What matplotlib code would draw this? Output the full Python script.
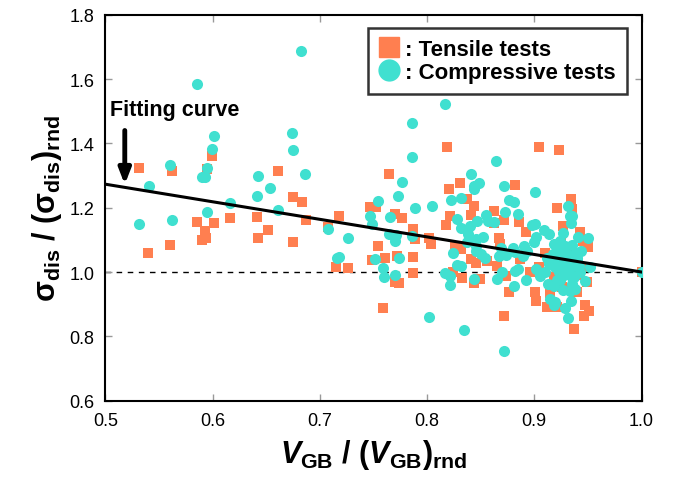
import numpy as np
import matplotlib
matplotlib.use("Agg")
import matplotlib.pyplot as plt
from matplotlib.lines import Line2D

plt.rcParams['font.family'] = ['Liberation Sans', 'DejaVu Sans']
plt.rcParams['mathtext.fontset'] = 'custom'
plt.rcParams['mathtext.rm'] = 'Liberation Sans:bold'
plt.rcParams['mathtext.it'] = 'Liberation Sans:italic:bold'
plt.rcParams['mathtext.bf'] = 'Liberation Sans:bold'

# Tensile tests (V_GB ratio, sigma_dis ratio)
tens_x = [0.531, 0.562, 0.599, 0.595, 0.661, 0.675, 0.683, 0.585, 0.601, 0.593,
          0.590, 0.594, 0.616, 0.641, 0.652, 0.642, 0.675, 0.687, 0.718, 0.708,
          0.747, 0.752, 0.560, 0.754, 0.540, 0.715, 0.726, 0.749,
          0.819, 0.904, 0.923, 0.764, 0.820, 0.831, 0.882, 0.837, 0.844, 0.841,
          0.818, 0.821, 0.862, 0.862, 0.872, 0.886, 0.770, 0.777, 0.787, 0.789,
          0.802, 0.804, 0.761, 0.772, 0.787, 0.770, 0.774, 0.787, 0.759, 0.826,
          0.832, 0.867, 0.892, 0.868, 0.841, 0.846, 0.856, 0.833, 0.844, 0.849,
          0.824, 0.865, 0.874, 0.887, 0.876, 0.872, 0.901, 0.902, 0.896, 0.904,
          0.912, 0.921, 0.926, 0.928, 0.934, 0.935, 0.921, 0.927, 0.943, 0.950,
          0.945, 0.940, 0.947, 0.951, 0.946, 0.937, 0.949, 0.947, 0.916, 0.924,
          0.930, 0.910, 0.918, 0.938, 0.925, 0.932, 0.915, 0.942, 1.000]
tens_y = [1.323, 1.315, 1.362, 1.320, 1.314, 1.233, 1.219, 1.157, 1.152, 1.129,
          1.099, 1.107, 1.169, 1.171, 1.132, 1.107, 1.094, 1.163, 1.175, 1.140,
          1.202, 1.201, 1.085, 1.082, 1.060, 1.017, 1.013, 1.037,
          1.390, 1.390, 1.380, 1.306, 1.259, 1.277, 1.272, 1.226, 1.205, 1.178,
          1.147, 1.175, 1.191, 1.152, 1.163, 1.157, 1.180, 1.169, 1.135, 1.102,
          1.107, 1.088, 1.045, 1.049, 1.048, 0.970, 0.965, 0.998, 0.888, 1.078,
          1.072, 1.106, 1.125, 1.087, 1.041, 1.028, 1.035, 0.981, 0.965, 0.978,
          0.999, 1.020, 0.989, 1.041, 0.937, 0.864, 0.937, 0.911, 1.000, 1.015,
          0.890, 0.890, 0.953, 0.948, 1.227, 1.196, 1.200, 1.144, 1.123, 1.077,
          1.098, 0.937, 0.896, 0.880, 0.864, 0.823, 0.968, 1.015, 1.051, 1.041,
          1.030, 1.060, 0.985, 1.005, 1.090, 1.065, 0.935, 0.990, 1.000]

# Compressive tests
comp_x = [0.682, 0.585, 0.601, 0.599, 0.560, 0.595, 0.590, 0.593, 0.674, 0.675,
          0.686, 0.642, 0.653, 0.641, 0.541, 0.616, 0.661, 0.595, 0.531, 0.562,
          0.708, 0.726, 0.754, 0.747, 0.749, 0.716, 0.718, 0.751,
          0.817, 0.786, 0.786, 0.864, 0.841, 0.777, 0.773, 0.848, 0.844, 0.844,
          0.872, 0.901, 0.822, 0.832, 0.805, 0.789, 0.876, 0.881, 0.765, 0.828,
          0.832, 0.840, 0.855, 0.857, 0.862, 0.847, 0.873, 0.885, 0.898, 0.901,
          0.764, 0.771, 0.770, 0.786, 0.838, 0.837, 0.846, 0.852, 0.846, 0.846,
          0.869, 0.850, 0.854, 0.867, 0.874, 0.880, 0.882, 0.890, 0.893, 0.889,
          0.900, 0.902, 0.909, 0.914, 0.824, 0.774, 0.759, 0.770, 0.760, 0.828,
          0.832, 0.817, 0.821, 0.821, 0.844, 0.865, 0.870, 0.882, 0.885, 0.881,
          0.892, 0.802, 0.834, 0.872, 0.931, 0.933, 0.935, 0.934, 0.927, 0.935,
          0.941, 0.950, 0.944, 0.918, 0.921, 0.924, 0.902, 0.905, 0.910, 0.913,
          0.918, 0.915, 0.919, 0.918, 0.934, 0.929, 0.931, 0.935, 0.938, 0.947,
          0.952, 0.920, 0.925, 0.930, 0.936, 0.928, 0.933, 0.940, 0.922, 0.926,
          0.931, 0.937, 0.924, 0.929, 0.916, 0.939, 0.943, 0.927, 0.933,
          0.912, 0.917, 0.921, 0.926, 0.930, 0.934, 0.938, 0.942, 0.919, 0.923,
          0.928, 0.932, 0.936, 0.914, 0.940, 0.925, 0.929, 0.933, 0.921, 0.935,
          1.000]
comp_y = [1.686, 1.586, 1.422, 1.383, 1.334, 1.323, 1.294, 1.294, 1.433, 1.379,
          1.306, 1.298, 1.261, 1.236, 1.269, 1.215, 1.193, 1.187, 1.149, 1.162,
          1.134, 1.105, 1.220, 1.173, 1.149, 1.043, 1.046, 1.041,
          1.521, 1.464, 1.357, 1.344, 1.306, 1.280, 1.237, 1.277, 1.266, 1.257,
          1.266, 1.249, 1.225, 1.231, 1.206, 1.199, 1.225, 1.217, 1.170, 1.166,
          1.136, 1.144, 1.178, 1.160, 1.155, 1.160, 1.187, 1.179, 1.146, 1.149,
          1.118, 1.115, 1.098, 1.111, 1.118, 1.094, 1.103, 1.108, 1.082, 1.066,
          1.075, 1.056, 1.044, 1.050, 1.053, 1.075, 1.061, 1.082, 1.066, 1.051,
          1.094, 1.108, 1.131, 1.118, 1.058, 1.043, 1.013, 0.991, 0.984, 1.023,
          1.020, 0.996, 0.988, 0.960, 0.977, 0.978, 0.999, 1.002, 1.009, 0.958,
          0.975, 0.860, 0.821, 0.754, 1.206, 1.175, 1.175, 1.153, 1.120, 1.085,
          1.110, 1.105, 1.066, 1.087, 1.077, 1.098, 1.009, 0.989, 0.999, 0.963,
          0.958, 0.916, 0.906, 0.896, 0.909, 0.887, 0.856, 0.963, 0.947, 0.973,
          1.015, 1.040, 1.030, 1.050, 1.020, 1.005, 0.995, 1.035, 1.060, 1.070,
          1.010, 0.985, 0.975, 1.025, 1.030, 1.060, 1.000, 0.945, 0.940,
          1.045, 1.055, 1.035, 1.045, 1.060, 1.045, 1.055, 1.020, 1.015, 1.000,
          0.990, 1.010, 1.040, 1.025, 1.045, 1.065, 1.080, 1.025, 0.975, 0.985,
          1.000]

# fitting curve end points
fit_x = [0.5, 1.0]
fit_y = [1.273, 1.0]

fig = plt.figure(figsize=(6.74, 4.85), dpi=100)
ax = fig.add_axes([0.1565, 0.1718, 0.7953, 0.7958])

orange = '#FF7F50'
cyan = '#40E0D0'

ax.plot([0.5, 1.0], [1.0, 1.0], color='black', lw=1.0, ls=(0, (4, 4)), zorder=1)
ax.scatter(tens_x, tens_y, marker='s', s=60, color=orange, linewidths=0, zorder=2)
ax.scatter(comp_x, comp_y, marker='o', s=64, color=cyan, linewidths=0, zorder=3)
ax.plot(fit_x, fit_y, color='black', lw=2.2, zorder=4)

ax.set_xlim(0.5, 1.0)
ax.set_ylim(0.6, 1.8)
ax.set_xticks([0.5, 0.6, 0.7, 0.8, 0.9, 1.0])
ax.set_yticks([0.6, 0.8, 1.0, 1.2, 1.4, 1.6, 1.8])
ax.set_xticklabels(['0.5', '0.6', '0.7', '0.8', '0.9', '1.0'])
ax.set_yticklabels(['0.6', '0.8', '1.0', '1.2', '1.4', '1.6', '1.8'])
ax.tick_params(direction='in', length=5, width=1, color='#999999',
               top=True, right=True, labelsize=13, pad=8)
for sp in ax.spines.values():
    sp.set_linewidth(1.5)

ax.set_xlabel(r'$V_{\mathrm{GB}}$ / $(V_{\mathrm{GB}})_{\mathrm{rnd}}$',
              fontsize=22, fontweight='bold', labelpad=6)
ax.set_ylabel(r'$\mathrm{\sigma_{dis}}$ / $(\mathrm{\sigma_{dis}})_{\mathrm{rnd}}$',
              fontsize=22, fontweight='bold', labelpad=4)

ax.annotate('', xy=(0.518, 1.272), xytext=(0.518, 1.44),
            arrowprops=dict(arrowstyle='-|>,head_width=0.35,head_length=0.9',
                            color='black', lw=3.5, shrinkA=0, shrinkB=0))
ax.text(0.504, 1.505, 'Fitting curve', fontsize=15.5, fontweight='bold',
        ha='left', va='center')

handles = [Line2D([], [], marker='s', ls='none', color=orange, markersize=15),
           Line2D([], [], marker='o', ls='none', color=cyan, markersize=15)]
leg = ax.legend(handles, [': Tensile tests', ': Compressive tests'],
                loc='upper right', bbox_to_anchor=(0.973, 0.966),
                prop={'weight': 'bold', 'size': 16}, frameon=True, fancybox=False,
                handlelength=0.9, handletextpad=0.3, borderpad=0.5,
                labelspacing=0.1, borderaxespad=0)
leg.get_frame().set_edgecolor('black')
leg.get_frame().set_linewidth(1.8)

fig.savefig('out.png', dpi=100)
